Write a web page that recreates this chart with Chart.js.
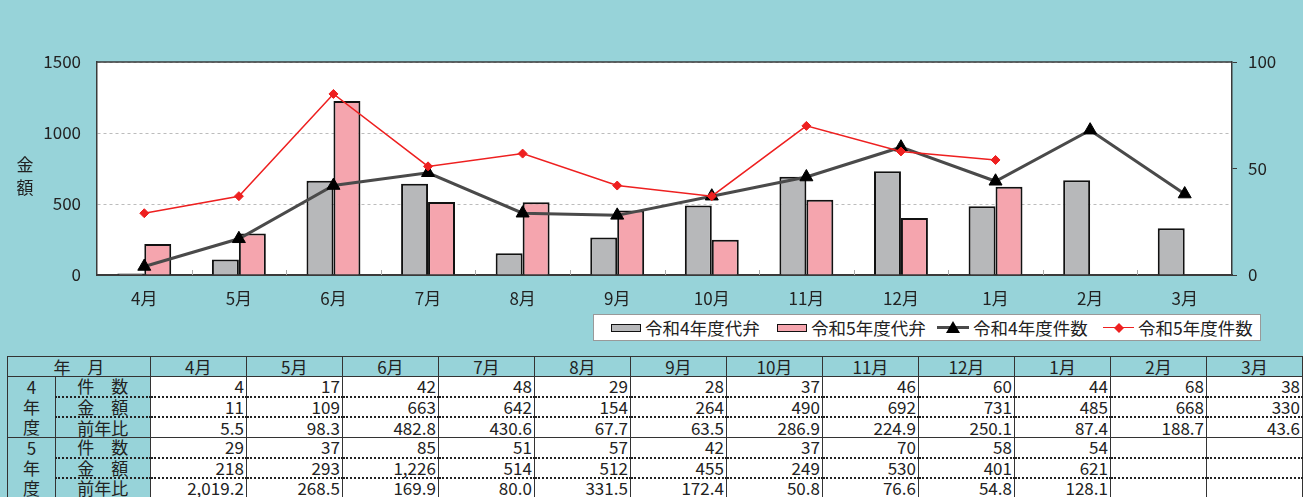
<!DOCTYPE html>
<html>
<head>
<meta charset="utf-8">
<script src="https://cdn.jsdelivr.net/npm/chart.js@4/dist/chart.umd.min.js"></script>
<style>
  body { margin: 0; width: 1303px; height: 497px; overflow: hidden; position: relative;
         background: #97d3d9; font-family: "Noto Sans CJK JP", sans-serif; color: #222; }
  #wrap { position: absolute; left: 0; top: 0; width: 1303px; height: 350px; }
  #ytitle { position: absolute; left: 15px; top: 152px; width: 20px; font-size: 17px;
            line-height: 23px; text-align: center; }
  #legend { position: absolute; left: 593px; top: 314px; width: 666px; height: 25px;
            background: #fff; border: 1px solid #999; }
  #legend .sw { position: absolute; top: 9px; width: 28px; height: 6px; border: 1.5px solid #111; }
  #legend .ln { position: absolute; height: 0; }
  #legend .tx { position: absolute; top: 0; font-size: 17.5px; line-height: 25px; white-space: nowrap; }
  #tbl { position: absolute; left: 7px; top: 356px; border-collapse: collapse;
         table-layout: fixed; font-size: 17px; }
  #tbl th, #tbl td { height: 20px; padding: 0 2px; line-height: 18px; box-sizing: border-box;
                     border-left: 1.5px solid #333; border-right: 1.5px solid #333; white-space: nowrap; }
  #tbl th { background: #97d3d9; font-weight: normal; text-align: center;
            border-top: 1.5px solid #333; border-bottom: 1.5px solid #333; }
  #tbl td { background: #fff; text-align: right; }
  #tbl td.grp, #tbl td.lab { background: #97d3d9; text-align: center; }
  #tbl td.grp { line-height: 20px; vertical-align: top; }
  #tbl tr.first td { border-top: 1.5px solid #333; }
  #tbl tr.sub td { border-top: 2px dotted #222; }
</style>
</head>
<body>
<div id="wrap"><canvas id="c" width="1303" height="350"></canvas></div>
<div id="ytitle">金<br>額</div>
<div id="legend">
  <span class="sw" style="left:17px;background:#b7b8ba"></span>
  <span class="tx" style="left:51px">令和4年度代弁</span>
  <span class="sw" style="left:183px;background:#f5a5ae"></span>
  <span class="tx" style="left:217px">令和5年度代弁</span>
  <span class="ln" style="left:343px;width:32px;top:11px;border-top:3px solid #4a4a4a"></span>
  <svg style="position:absolute;left:352px;top:6px" width="14" height="13"><polygon points="7,0 14,12 0,12" fill="#000"/></svg>
  <span class="tx" style="left:379px">令和4年度件数</span>
  <span class="ln" style="left:509px;width:31px;top:12px;border-top:1.5px solid #ee2020"></span>
  <svg style="position:absolute;left:520px;top:8px" width="10" height="10"><polygon points="5,0 10,5 5,10 0,5" fill="#ee2020"/></svg>
  <span class="tx" style="left:544px">令和5年度件数</span>
</div>
<table id="tbl"></table>
<script>
const months = ['4月', '5月', '6月', '7月', '8月', '9月', '10月', '11月', '12月', '1月', '2月', '3月'];
const amountR4 = [11, 109, 663, 642, 154, 264, 490, 692, 731, 485, 668, 330];
const amountR5 = [218, 293, 1226, 514, 512, 455, 249, 530, 401, 621, null, null];
const countR4 = [4, 17, 42, 48, 29, 28, 37, 46, 60, 44, 68, 38];
const countR5 = [29, 37, 85, 51, 57, 42, 37, 70, 58, 54, null, null];
const ratioR4 = [5.5, 98.3, 482.8, 430.6, 67.7, 63.5, 286.9, 224.9, 250.1, 87.4, 188.7, 43.6];
const ratioR5 = [2019.2, 268.5, 169.9, 80.0, 331.5, 172.4, 50.8, 76.6, 54.8, 128.1, null, null];
const leftTicks = [0, 500, 1000, 1500];
const rightTicks = [0, 50, 100];

const FONT = '"Noto Sans CJK JP", sans-serif';
const AXIS = '#3a3a3a';

// white plot area, top frame edge, and short tick marks standing up from the x axis between categories
const plotFrame = {
    id: 'plotFrame',
    beforeDraw(chart) {
        const a = chart.chartArea, ctx = chart.ctx;
        ctx.save();
        ctx.fillStyle = '#fff';
        ctx.fillRect(a.left, a.top, a.right - a.left, a.bottom - a.top);
        ctx.restore();
    },
    afterDatasetsDraw(chart) {
        const x = chart.scales.x, area = chart.chartArea, ctx = chart.ctx;
        const step = (x.getPixelForValue(1) - x.getPixelForValue(0));
        ctx.save();
        ctx.strokeStyle = '#aaa';
        ctx.lineWidth = 1;
        for (let i = 1; i < months.length; i++) {
            const px = Math.round(x.getPixelForValue(i) - step / 2) + 0.5;
            ctx.beginPath();
            ctx.moveTo(px, area.bottom);
            ctx.lineTo(px, area.bottom - 5);
            ctx.stroke();
        }
        ctx.strokeStyle = AXIS;
        ctx.lineWidth = 1.5;
        ctx.beginPath();
        ctx.moveTo(area.left, area.top);
        ctx.lineTo(area.right, area.top);
        ctx.stroke();
        ctx.restore();
    },
};

// ── chart ────────────────────────────────────────────────────────────────
new Chart(document.getElementById('c'), {
    data: {
        labels: months,
        datasets: [
            { type: 'line', label: '令和5年度件数', data: countR5, yAxisID: 'y1', order: 0,
              borderColor: '#ee2020', backgroundColor: '#ee2020', borderWidth: 1.5,
              pointStyle: 'rectRot', pointRadius: 4.5, pointBorderWidth: 1, tension: 0 },
            { type: 'line', label: '令和4年度件数', data: countR4, yAxisID: 'y1', order: 1,
              borderColor: '#4a4a4a', backgroundColor: '#000', borderWidth: 3,
              pointStyle: 'triangle', pointRadius: 7.5, pointBorderColor: '#000',
              pointBorderWidth: 1, tension: 0 },
            { type: 'bar', label: '令和4年度代弁', data: amountR4, yAxisID: 'y', order: 2,
              backgroundColor: '#b7b8ba', borderColor: '#111', borderWidth: 2,
              categoryPercentage: 0.57, barPercentage: 1 },
            { type: 'bar', label: '令和5年度代弁', data: amountR5, yAxisID: 'y', order: 2,
              backgroundColor: '#f5a5ae', borderColor: '#111', borderWidth: 2,
              categoryPercentage: 0.57, barPercentage: 1 },
        ],
    },
    options: {
        responsive: false,
        animation: false,
        layout: { padding: { top: 62, left: 0, right: 0, bottom: 0 } },
        plugins: { legend: { display: false }, tooltip: { enabled: false } },
        scales: {
            x: {
                grid: { display: false, drawTicks: false },
                border: { color: AXIS, width: 2 },
                ticks: { color: '#222', font: { size: 17, family: FONT }, padding: 13 },
                afterFit: s => { s.height = 75; },
            },
            y: {
                position: 'left', min: 0, max: 1500,
                afterBuildTicks: s => { s.ticks = leftTicks.map(v => ({ value: v })); },
                grid: { drawTicks: false, color: '#bcbcbc', lineWidth: 1 },
                border: { color: AXIS, width: 1.5, dash: [3, 3] },
                ticks: { color: '#222', font: { size: 17, family: FONT }, padding: 16,
                         callback: v => String(v) },
                afterFit: s => { s.width = 97; },
            },
            y1: {
                position: 'right', min: 0, max: 100,
                afterBuildTicks: s => { s.ticks = rightTicks.map(v => ({ value: v })); },
                grid: { drawOnChartArea: false, tickLength: 5, color: AXIS },
                border: { color: AXIS, width: 1.5 },
                ticks: { color: '#222', font: { size: 17, family: FONT }, padding: 11,
                         callback: v => String(v) },
                afterFit: s => { s.width = 71; },
            },
        },
    },
    plugins: [plotFrame],
});

// ── table ────────────────────────────────────────────────────────────────
const fmtInt = v => v == null ? '' : v.toLocaleString('en-US');
const fmtDec = v => v == null ? '' : v.toLocaleString('en-US', { minimumFractionDigits: 1, maximumFractionDigits: 1 });

function buildTable() {
    let html = '<colgroup><col style="width:48px"><col style="width:95px">';
    months.forEach(() => { html += '<col style="width:96.2px">'; });
    html += '</colgroup><tr><th colspan="2">年　月</th>';
    months.forEach(m => { html += `<th>${m}</th>`; });
    html += '</tr>';
    const groups = [
        { nen: '4', rows: [['件　数', countR4, fmtInt], ['金　額', amountR4, fmtInt], ['前年比', ratioR4, fmtDec]] },
        { nen: '5', rows: [['件　数', countR5, fmtInt], ['金　額', amountR5, fmtInt], ['前年比', ratioR5, fmtDec]] },
    ];
    for (const g of groups) {
        g.rows.forEach(([label, arr, fmt], i) => {
            html += `<tr class="${i === 0 ? 'first' : 'sub'}">`;
            if (i === 0) html += `<td class="grp" rowspan="3">${g.nen}<br>年<br>度</td>`;
            html += `<td class="lab">${label}</td>`;
            arr.forEach(v => { html += `<td>${fmt(v)}</td>`; });
            html += '</tr>';
        });
    }
    document.getElementById('tbl').innerHTML = html;
}
buildTable();
</script>
</body>
</html>
